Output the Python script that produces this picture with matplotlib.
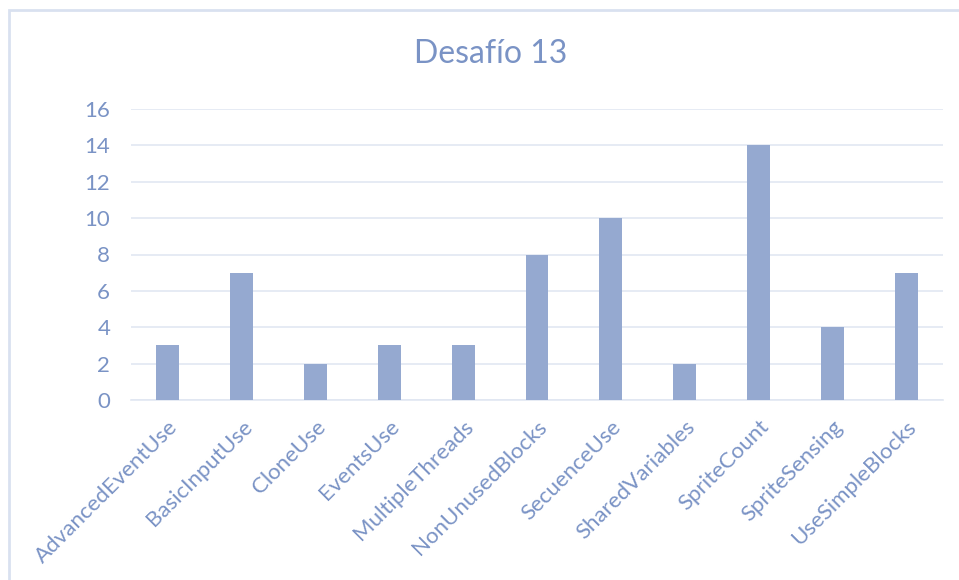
import matplotlib.pyplot as plt
from matplotlib.patches import Rectangle

categories = ['AdvancedEventUse', 'BasicInputUse', 'CloneUse', 'EventsUse',
              'MultipleThreads', 'NonUnusedBlocks', 'SecuenceUse',
              'SharedVariables', 'SpriteCount', 'SpriteSensing',
              'UseSimpleBlocks']
values = [3, 7, 2, 3, 3, 8, 10, 2, 14, 4, 7]
yticks = [0, 2, 4, 6, 8, 10, 12, 14, 16]

bar_color = '#95A9D0'
text_color = '#7A93C5'
grid_color = '#E1E7F2'

plt.rcParams['font.family'] = ['Lato', 'DejaVu Sans']

fig = plt.figure(figsize=(9.59, 5.80), dpi=100)
# outer chart border, running off the right and bottom edges
fig.patches.append(Rectangle((9 / 959, -0.1), 1.2, 1 - 10 / 580 + 0.1,
                             transform=fig.transFigure, fill=False,
                             edgecolor='#D9E1F0', linewidth=2))

ax = fig.add_axes([131 / 959, 1 - 400 / 580, (943 - 131) / 959, (400 - 109) / 580])
x = range(len(categories))
ax.bar(x, values, width=0.31, color=bar_color, zorder=3)
ax.set_xlim(-0.5, len(categories) - 0.5)
ax.set_ylim(0, 16)
ax.set_yticks(yticks)
ax.set_xticks(list(x))
ax.set_xticklabels(categories, rotation=45, ha='right', rotation_mode='anchor',
                   fontsize=16, color=text_color)
ax.tick_params(axis='y', labelsize=16, colors=text_color, length=0, pad=15)
ax.tick_params(axis='x', length=0, pad=12)
ax.grid(axis='y', color=grid_color, linewidth=1.2, zorder=0)
for s in ['top', 'right', 'left']:
    ax.spines[s].set_visible(False)
ax.spines['bottom'].set_color(grid_color)
ax.spines['bottom'].set_linewidth(1.2)

fig.text(491 / 959, 1 - 54 / 580, 'Desafío 13', ha='center', va='center',
         fontsize=23, color=text_color)

fig.savefig('out.png', dpi=100, facecolor='white')
